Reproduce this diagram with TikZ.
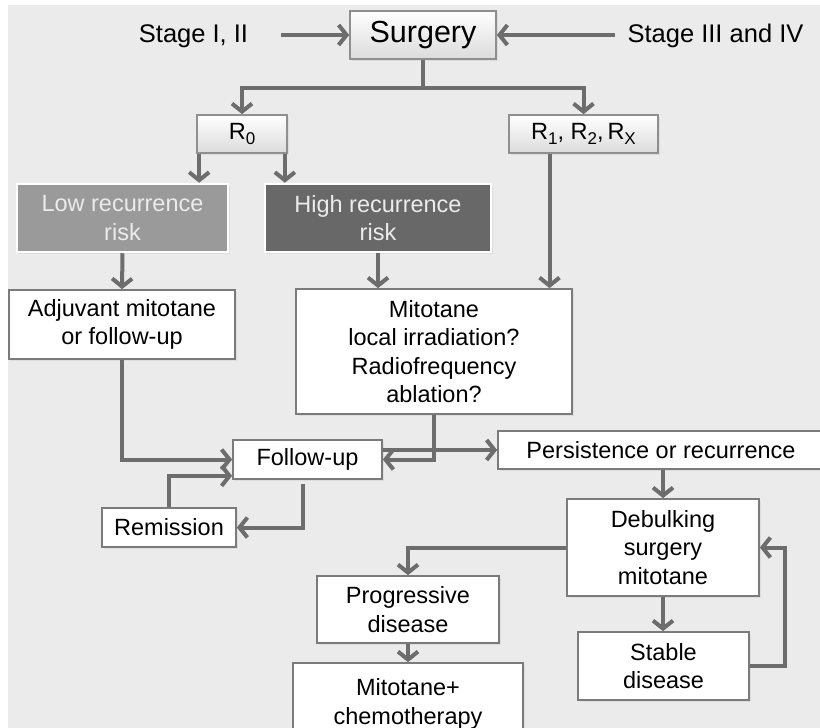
\documentclass[tikz,border=0pt]{standalone}
\usepackage{fontspec}
\setmainfont{Liberation Sans}
\usetikzlibrary{arrows.meta,shadows}

\definecolor{bggray}{HTML}{EBEBEB}
\definecolor{linegray}{HTML}{6D6D6D}
\definecolor{edgegray}{HTML}{7B7B7B}
\definecolor{lowfill}{HTML}{9A9A9A}
\definecolor{highfill}{HTML}{686868}

% lowered index for the resection classes
\newcommand{\rsub}[1]{\raisebox{-0.35ex}{\fontsize{17pt}{17pt}\selectfont #1}}

\tikzset{
  box/.style={draw=edgegray, line width=1.7pt, fill=white, align=center, inner sep=0pt,
    font=\fontsize{23.5pt}{28.5pt}\selectfont,
    drop shadow={opacity=0.12, shadow xshift=1.5pt, shadow yshift=-1.5pt}},
  headbox/.style={box, draw=edgegray!85, top color=white, bottom color=black!14},
  riskbox/.style={box, draw=white, line width=2.5pt, text=white!92!black},
  label/.style={inner sep=0pt, font=\fontsize{25.5pt}{28pt}\selectfont},
  flow/.style={draw=linegray, line width=4pt, -{Straight Barb[length=8pt,width=20pt]}},
}

\begin{document}
\begin{tikzpicture}[x=1pt, y=-1pt]
  \useasboundingbox (0,0) rectangle (820,728);
  \clip (0,0) rectangle (820,728);
  \fill[bggray] (8,5) rectangle (820,728);

  % staging and surgery
  \node[label] (stagelo) at (193.5,36) {Stage I, II};
  \node[label] (stagehi) at (715.5,36) {Stage III and IV};
  \node[headbox, minimum width=146pt, minimum height=48pt,
        font=\fontsize{30.5pt}{32pt}\selectfont] (surgery) at (423,35) {Surgery};

  % resection status
  \node[headbox, minimum width=90pt, minimum height=38pt] (rzero) at (242,134) {R\rsub{0}};
  \node[headbox, minimum width=149pt, minimum height=38pt] (rrest) at (583.5,134)
    {R\rsub{1}, R\rsub{2},\,R\rsub{X}};

  % risk groups
  \node[riskbox, fill=lowfill, minimum width=211pt, minimum height=68pt] (low) at (122.5,218)
    {Low recurrence\\risk};
  \node[riskbox, fill=highfill, minimum width=226pt, minimum height=68pt] (high) at (378,218)
    {High recurrence\\risk};

  % treatment
  \node[box, minimum width=226pt, minimum height=69pt] (adjuv) at (122,324.5)
    {Adjuvant mitotane\\or follow-up};
  \node[box, minimum width=276pt, minimum height=125pt] (mito) at (434,351.5)
    {Mitotane\\local irradiation?\\Radiofrequency\\ablation?};

  % follow-up loop
  \node[box, minimum width=149pt, minimum height=39pt] (follow) at (307.5,459.5) {Follow-up};
  \node[box, minimum width=134pt, minimum height=39pt] (remis) at (169,527.5) {Remission};
  \node[box, minimum width=326pt, minimum height=38pt] (persist) at (661,450)
    {Persistence or recurrence};

  % recurrence management
  \node[box, minimum width=192pt, minimum height=97pt] (debulk) at (663,547.5)
    {Debulking\\surgery\\mitotane};
  \node[box, minimum width=182pt, minimum height=67pt] (progr) at (408,609.5)
    {Progressive\\disease};
  \node[box, minimum width=230pt, minimum height=82pt] (chemo) at (408,704)
    {Mitotane+\\chemotherapy};
  \node[box, minimum width=171pt, minimum height=68pt] (stable) at (663.5,666)
    {Stable\\disease};

  % connectors
  \draw[flow, shorten <=33pt] (stagelo.east |- surgery.west) -- (surgery.west);
  \draw[flow, shorten <=12pt] (stagehi.west |- surgery.east) -- (surgery.east);
  \draw[flow] (surgery.south) -- ++(0,28) -| (rzero.north);
  \draw[flow] (surgery.south) -- ++(0,28) -| (rrest.north);

  \coordinate (rzl) at ([xshift=3pt]rzero.south west);
  \coordinate (rzr) at ([xshift=-3pt]rzero.south east);
  \coordinate (rrl) at ([xshift=-34pt]rrest.south);
  \draw[flow] (rzl) -- (rzl |- low.north);
  \draw[flow] (rzr) -- (rzr |- high.north);
  \draw[flow] (rrl) -- (rrl |- mito.north);

  \draw[flow] (low.south) -- (adjuv.north);
  \draw[flow] (high.south) -- (high.south |- mito.north);

  \draw[flow] (adjuv.south) |- (follow.west);
  \draw[flow] (mito.south) |- (follow.east);
  \draw[flow] (follow.east |- persist.west) -- (persist.west);

  \coordinate (fuin) at ([yshift=4pt]follow.south west);
  \draw[flow] ([xshift=-4.5pt,yshift=-4pt]follow.south) |- (remis.east);
  \draw[flow] (remis.north) |- (fuin);

  \draw[flow] (debulk.north |- persist.south) -- (debulk.north);
  \draw[flow] (debulk.west) -| (progr.north);
  \draw[flow] (progr.south) -- (chemo.north);
  \draw[flow] (debulk.south) -- (debulk.south |- stable.north);
  \draw[flow] (stable.east) -- ++(35,0) |- (debulk.east);
\end{tikzpicture}
\end{document}
